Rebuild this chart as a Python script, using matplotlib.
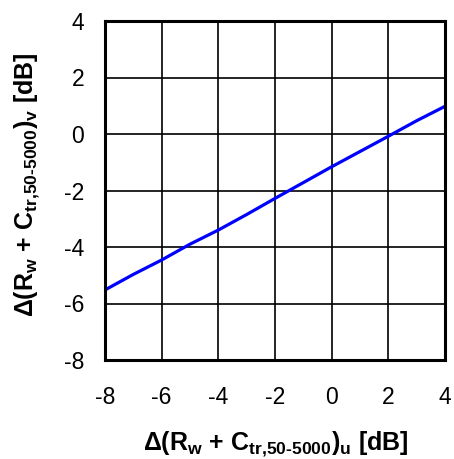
import matplotlib
matplotlib.use("Agg")
import matplotlib.pyplot as plt

x_vals = [-8, -7, -6, -5, -4, -3, -2, -1, 0, 1, 2, 3, 4]
y_vals = [-5.52, -4.97, -4.46, -3.90, -3.40, -2.85, -2.28, -1.72, -1.16, -0.62, -0.08, 0.47, 0.98]
x_ticks = [-8, -6, -4, -2, 0, 2, 4]
y_ticks = [-8, -6, -4, -2, 0, 2, 4]
x_label = r'$\Delta$(R$_{\text{w}}$ + C$_{\text{tr,50-5000}}$)$_{\text{u}}$ [dB]'
y_label = r'$\Delta$(R$_{\text{w}}$ + C$_{\text{tr,50-5000}}$)$_{\text{v}}$ [dB]'

plt.rcParams['font.family'] = ['Liberation Sans', 'DejaVu Sans']
plt.rcParams['axes.unicode_minus'] = False
plt.rcParams['mathtext.fontset'] = 'custom'
plt.rcParams['mathtext.rm'] = 'Liberation Sans:bold'
plt.rcParams['mathtext.it'] = 'Liberation Sans:bold'
plt.rcParams['mathtext.bf'] = 'Liberation Sans:bold'

W, H = 454, 459
fig = plt.figure(figsize=(W/100, H/100), dpi=100)
ax = fig.add_axes([105/W, 1-360/H, 340/W, 339/H])
ax.plot(x_vals, y_vals, color='#0000ff', lw=2.3, solid_capstyle='butt')
ax.set_xlim(-8, 4)
ax.set_ylim(-8, 4)
ax.set_xticks(x_ticks)
ax.set_yticks(y_ticks)
ax.grid(True, color='black', lw=1.2)
for s in ax.spines.values():
    s.set_linewidth(2.2)
ax.tick_params(length=0, labelsize=16.5)
ax.tick_params(axis='x', pad=19)
ax.tick_params(axis='y', pad=15)

fig.text(276/W, 1-450/H, x_label, fontsize=18, fontweight='bold',
         ha='center', va='baseline')
fig.text(33/W, 1-185/H, y_label, fontsize=18, fontweight='bold',
         rotation=90, rotation_mode='anchor', ha='center', va='baseline')

fig.savefig('out.png', dpi=100)
